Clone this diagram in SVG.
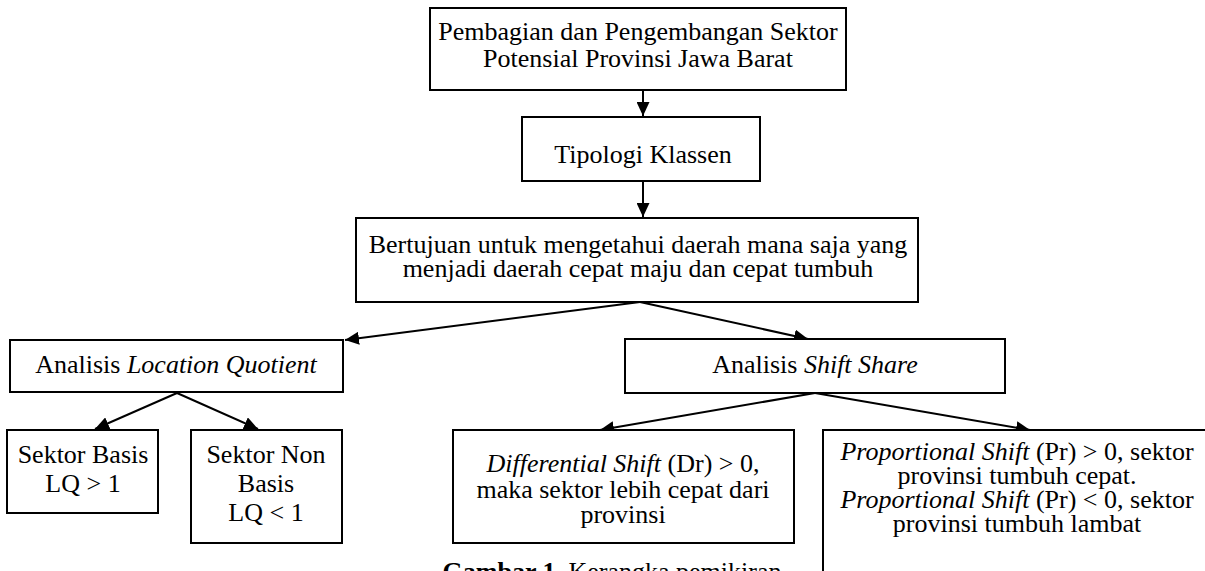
<svg xmlns="http://www.w3.org/2000/svg" width="1205" height="571" viewBox="0 0 1205 571">
<defs>
<style>
.box{fill:#fff;stroke:#000;stroke-width:2}
.t{font-family:"Liberation Serif","Times New Roman",serif;font-size:26px;fill:#000;text-anchor:middle}
.i{font-style:italic}
.b{font-weight:bold}
.c{stroke:#000;stroke-width:2;fill:none}
</style>
<marker id="ah" markerWidth="14" markerHeight="13" refX="14" refY="6.5" orient="auto" markerUnits="userSpaceOnUse">
<path d="M0,0 L14,6.5 L0,13 Z" fill="#000"/>
</marker>
</defs>
<rect width="1205" height="571" fill="#fff"/>
<g id="connectors">
<line class="c" x1="643" y1="90" x2="643" y2="116" marker-end="url(#ah)"/>
<line class="c" x1="643" y1="181" x2="643" y2="217" marker-end="url(#ah)"/>
<line class="c" x1="640" y1="302" x2="345" y2="340" marker-end="url(#ah)"/>
<line class="c" x1="640" y1="302" x2="808" y2="339" marker-end="url(#ah)"/>
<line class="c" x1="177" y1="393" x2="95" y2="429" marker-end="url(#ah)"/>
<line class="c" x1="177" y1="393" x2="258" y2="429" marker-end="url(#ah)"/>
<line class="c" x1="815" y1="393" x2="600" y2="430" marker-end="url(#ah)"/>
<line class="c" x1="815" y1="393" x2="1030" y2="430" marker-end="url(#ah)"/>
</g>
<g id="n1">
<rect class="box" x="430" y="8" width="416" height="82"/>
<text class="t" x="638" y="40">Pembagian dan Pengembangan Sektor</text>
<text class="t" x="638" y="67">Potensial Provinsi Jawa Barat</text>
</g>
<g id="n2">
<rect class="box" x="522" y="117" width="238" height="64"/>
<text class="t" x="643" y="163">Tipologi Klassen</text>
</g>
<g id="n3">
<rect class="box" x="356" y="218" width="562" height="84"/>
<text class="t" x="638" y="253">Bertujuan untuk mengetahui daerah mana saja yang</text>
<text class="t" x="638" y="277">menjadi daerah cepat maju dan cepat tumbuh</text>
</g>
<g id="n4">
<rect class="box" x="10" y="340" width="333" height="52"/>
<text class="t" x="176" y="373">Analisis <tspan class="i">Location Quotient</tspan></text>
</g>
<g id="n5">
<rect class="box" x="625" y="339" width="380" height="54"/>
<text class="t" x="815" y="373">Analisis <tspan class="i">Shift Share</tspan></text>
</g>
<g id="n6">
<rect class="box" x="7" y="430" width="151" height="83"/>
<text class="t" x="83" y="463">Sektor Basis</text>
<text class="t" x="83" y="492">LQ &gt; 1</text>
</g>
<g id="n7">
<rect class="box" x="191" y="430" width="151" height="113"/>
<text class="t" x="266" y="463">Sektor Non</text>
<text class="t" x="266" y="492">Basis</text>
<text class="t" x="266" y="521">LQ &lt; 1</text>
</g>
<g id="n8">
<rect class="box" x="453" y="430" width="341" height="113"/>
<text class="t" x="623" y="472"><tspan class="i">Differential Shift</tspan> (Dr) &gt; 0,</text>
<text class="t" x="623" y="498">maka sektor lebih cepat dari</text>
<text class="t" x="623" y="523">provinsi</text>
</g>
<g id="n9">
<rect class="box" x="823" y="430" width="390" height="160"/>
<text class="t" x="1017" y="460"><tspan class="i">Proportional Shift</tspan> (Pr) &gt; 0, sektor</text>
<text class="t" x="1017" y="484">provinsi tumbuh cepat.</text>
<text class="t" x="1017" y="508"><tspan class="i">Proportional Shift</tspan> (Pr) &lt; 0, sektor</text>
<text class="t" x="1017" y="532">provinsi tumbuh lambat</text>
</g>
<g id="caption">
<text class="t" x="612" y="580"><tspan class="b">Gambar 1.</tspan> Kerangka pemikiran</text>
</g>
</svg>
